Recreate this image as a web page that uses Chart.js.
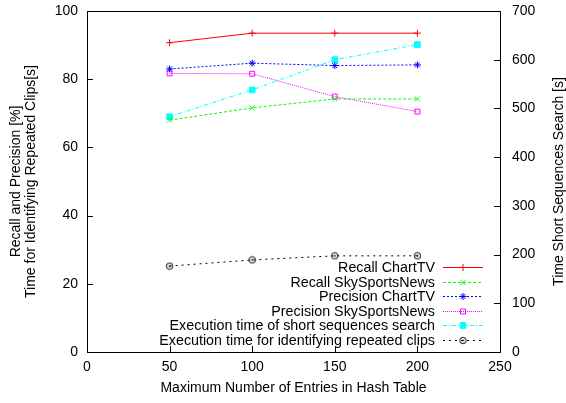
<!DOCTYPE html>
<html>
<head>
<meta charset="utf-8">
<script src="https://cdn.jsdelivr.net/npm/chart.js@4.4.1/dist/chart.umd.min.js"></script>
<style>
  html, body { margin: 0; padding: 0; background: #fff; }
  #wrap { width: 566px; height: 403px; position: relative; }
</style>
</head>
<body>
<div id="wrap"><canvas id="chart"></canvas></div>
<script>
// data
const entries = [50, 100, 150, 200];
const recallChartTV = [90.7, 93.5, 93.5, 93.5];
const recallSkySports = [68.0, 71.6, 74.2, 74.2];
const precisionChartTV = [83.0, 84.7, 84.0, 84.2];
const precisionSkySports = [81.7, 81.6, 74.9, 70.5];
const shortSearchTime = [483, 538, 600, 631];     // right axis [s]
const repeatedClipsTime = [25.2, 27.0, 28.2, 28.2]; // left axis [s]

const xTicks = [0, 50, 100, 150, 200, 250];
const leftTicks = [0, 20, 40, 60, 80, 100];
const rightTicks = [0, 100, 200, 300, 400, 500, 600, 700];

const FONT = "'Liberation Sans', Arial, sans-serif";
Chart.defaults.color = '#000';
Chart.defaults.font.family = FONT;
Chart.defaults.font.size = 14;

function pts(values) {
    return entries.map((x, i) => ({ x: x, y: values[i] }));
}

// gnuplot style marker: circle with dot
function circleDot() {
    const c = document.createElement('canvas');
    c.width = 9; c.height = 9;
    const g = c.getContext('2d');
    g.strokeStyle = '#000'; g.lineWidth = 1;
    g.beginPath(); g.arc(4.5, 4.5, 3.2, 0, Math.PI * 2); g.stroke();
    g.fillStyle = '#000';
    g.beginPath(); g.arc(4.5, 4.5, 1, 0, Math.PI * 2); g.fill();
    return c;
}
const dotCircle = circleDot();

const datasets = [
    { label: 'Recall ChartTV', data: pts(recallChartTV), yAxisID: 'y',
      borderColor: '#ff0000', backgroundColor: '#ff0000', borderDash: [],
      pointStyle: 'cross', pointRadius: 3.5 },
    { label: 'Recall SkySportsNews', data: pts(recallSkySports), yAxisID: 'y',
      borderColor: '#00ff00', backgroundColor: '#00ff00', borderDash: [3, 2],
      pointStyle: 'crossRot', pointRadius: 3.5 },
    { label: 'Precision ChartTV', data: pts(precisionChartTV), yAxisID: 'y',
      borderColor: '#0000ff', backgroundColor: '#0000ff', borderDash: [2, 2],
      pointStyle: 'star', pointRadius: 3.5 },
    { label: 'Precision SkySportsNews', data: pts(precisionSkySports), yAxisID: 'y',
      borderColor: '#ff00ff', backgroundColor: 'rgba(0,0,0,0)', borderDash: [1, 1],
      pointStyle: 'rect', pointRadius: 3.5 },
    { label: 'Execution time of short sequences search', data: pts(shortSearchTime), yAxisID: 'y2',
      borderColor: '#00ffff', backgroundColor: '#00ffff', borderDash: [4, 2, 1, 2],
      pointStyle: 'rect', pointRadius: 4 },
    { label: 'Execution time for identifying repeated clips', data: pts(repeatedClipsTime), yAxisID: 'y',
      borderColor: '#000000', backgroundColor: '#000000', borderDash: [2, 4],
      pointStyle: dotCircle, pointRadius: 4 }
];
datasets.forEach(d => {
    d.borderWidth = 1;
    d.pointBorderColor = d.borderColor;
    d.pointBorderWidth = 1;
    d.pointBackgroundColor = d.backgroundColor;
    d.fill = false;
    d.tension = 0;
});

// frame, inward ticks, right title, gnuplot-like legend
const gnuplotDeco = {
    id: 'gnuplotDeco',
    afterDatasetsDraw(chart) {
        const ctx = chart.ctx;
        const a = chart.chartArea;
        const sx = chart.scales.x, sy = chart.scales.y, sy2 = chart.scales.y2;
        ctx.save();
        ctx.strokeStyle = '#000';
        ctx.lineWidth = 1;
        ctx.setLineDash([]);
        ctx.strokeRect(Math.round(a.left) + 0.5, Math.round(a.top) + 0.5,
                       Math.round(a.right - a.left), Math.round(a.bottom - a.top));
        ctx.beginPath();
        xTicks.forEach(v => {
            const px = Math.round(sx.getPixelForValue(v)) + 0.5;
            ctx.moveTo(px, a.bottom); ctx.lineTo(px, a.bottom - 6);
        });
        leftTicks.forEach(v => {
            const py = Math.round(sy.getPixelForValue(v)) + 0.5;
            ctx.moveTo(a.left, py); ctx.lineTo(a.left + 6, py);
        });
        rightTicks.forEach(v => {
            const py = Math.round(sy2.getPixelForValue(v)) + 0.5;
            ctx.moveTo(a.right, py); ctx.lineTo(a.right - 6, py);
        });
        ctx.stroke();

        // right axis title, reading bottom to top
        ctx.font = '14px ' + FONT;
        ctx.fillStyle = '#000';
        ctx.save();
        ctx.translate(559, (a.top + a.bottom) / 2);
        ctx.rotate(-Math.PI / 2);
        ctx.textAlign = 'center';
        ctx.textBaseline = 'middle';
        ctx.fillText('Time Short Sequences Search [s]', 0, 0);
        ctx.restore();

        // legend
        ctx.font = '14.3px ' + FONT;
        const textRight = 435, lineL = 443, lineR = 483, top = 267, step = 14.6;
        chart.data.datasets.forEach((d, i) => {
            const y = top + i * step;
            const yl = Math.round(y) + 0.5;
            ctx.textAlign = 'right';
            ctx.textBaseline = 'middle';
            ctx.fillStyle = '#000';
            ctx.fillText(d.label, textRight, y + 1);
            ctx.strokeStyle = d.borderColor;
            ctx.setLineDash(d.borderDash);
            ctx.beginPath();
            ctx.moveTo(lineL, yl);
            ctx.lineTo(lineR, yl);
            ctx.stroke();
            ctx.setLineDash([]);
            ctx.fillStyle = d.pointBackgroundColor;
            ctx.strokeStyle = d.pointBorderColor;
            Chart.helpers.drawPoint(ctx, {
                pointStyle: d.pointStyle, radius: d.pointRadius, rotation: 0, borderWidth: 1
            }, (lineL + lineR) / 2, yl);
        });
        ctx.restore();
    }
};

new Chart(document.getElementById('chart'), {
    type: 'line',
    data: { datasets: datasets },
    options: {
        responsive: true,
        maintainAspectRatio: false,
        animation: false,
        layout: { padding: { top: 11, right: 0, left: 0, bottom: 0 } },
        plugins: { legend: { display: false }, tooltip: { enabled: false } },
        scales: {
            x: {
                type: 'linear', min: 0, max: 250,
                afterBuildTicks: s => { s.ticks = xTicks.map(v => ({ value: v })); },
                afterFit: s => { s.height = 51; s.paddingLeft = 0; s.paddingRight = 0; },
                ticks: { padding: 7, maxRotation: 0 },
                grid: { display: false, drawTicks: false },
                border: { display: false },
                title: { display: true, text: 'Maximum Number of Entries in Hash Table',
                         padding: { top: 0, bottom: 7 }, font: { size: 14, lineHeight: 1.1 } }
            },
            y: {
                position: 'left', min: 0, max: 100,
                afterBuildTicks: s => { s.ticks = leftTicks.map(v => ({ value: v })); },
                afterFit: s => { s.width = 87; s.paddingTop = 0; s.paddingBottom = 0; },
                ticks: { padding: 9 },
                grid: { display: false, drawTicks: false },
                border: { display: false },
                title: { display: true,
                         text: ['Recall and Precision [%]', 'Time for Identifying Repeated Clips[s]'],
                         padding: { top: 8, bottom: 0 }, font: { size: 14, lineHeight: 1.1 } }
            },
            y2: {
                position: 'right', min: 0, max: 700,
                afterBuildTicks: s => { s.ticks = rightTicks.map(v => ({ value: v })); },
                afterFit: s => { s.width = 66; s.paddingTop = 0; s.paddingBottom = 0; },
                ticks: { padding: 12 },
                grid: { display: false, drawTicks: false },
                border: { display: false }
            }
        }
    },
    plugins: [gnuplotDeco]
});
</script>
</body>
</html>
